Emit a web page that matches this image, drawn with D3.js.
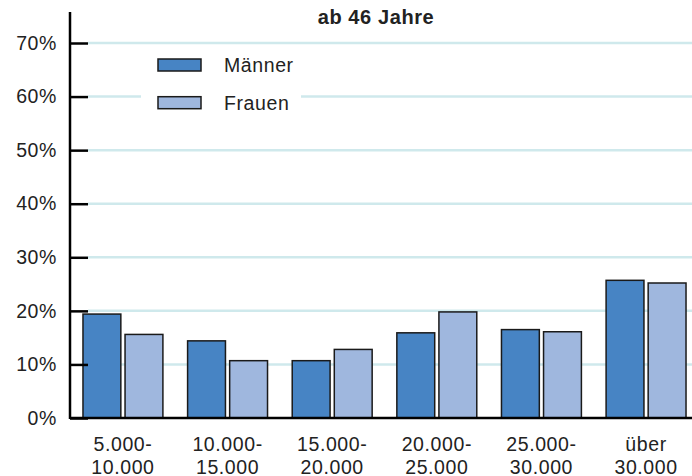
<!DOCTYPE html>
<html lang="de">
<head>
    <meta charset="UTF-8">
    <title>ab 46 Jahre</title>
    <style>
        body{ margin:0; background:#fff; }
        svg text{ font-family:Arial, "Liberation Sans", sans-serif; fill:#222; letter-spacing:0.6px; }
        .grid line{ stroke:#cfe9ec; stroke-width:2.5; }
        .bar rect{ stroke:#1a1a1a; stroke-width:1.5; }
        .axis line, .axis path{ stroke:#000; }
    </style>
</head>
<body>
    <svg class="chart" width="692" height="476"></svg>
    <script src="https://cdnjs.cloudflare.com/ajax/libs/d3/7.8.5/d3.min.js"></script>
    <script>
        // data
        var categories = ["5.000-|10.000", "10.000-|15.000", "15.000-|20.000", "20.000-|25.000", "25.000-|30.000", "über|30.000"];
        var series = ["Männer", "Frauen"];
        var maenner = [19.4, 14.4, 10.7, 15.9, 16.5, 25.7];
        var frauen = [15.6, 10.7, 12.8, 19.8, 16.1, 25.2];
        var yTicks = [0, 10, 20, 30, 40, 50, 60, 70];
        var colors = {"Männer": "#4784c4", "Frauen": "#9fb7de"};
        var title = "ab 46 Jahre";

        var svg = d3.select("svg"),
            plotLeft = 70, plotRight = 699,
            plotTop = 43, plotBottom = 418;

        var x0 = d3.scaleBand().domain(categories).range([plotLeft, plotRight]).paddingInner(0.236).paddingOuter(0.124);
        var x1 = d3.scaleBand().domain(series).range([0, x0.bandwidth()]).paddingInner(0.1);
        var y = d3.scaleLinear().domain([0, 70]).range([plotBottom, plotTop]);

        var data = categories.map(function(c, i){
            return {cat: c, values: [{key: "Männer", v: maenner[i]}, {key: "Frauen", v: frauen[i]}]};
        });

        // gridlines
        svg.append("g").attr("class", "grid")
            .selectAll("line")
            .data(yTicks.filter(function(t){ return t > 0; }))
            .enter().append("line")
            .attr("x1", plotLeft + 18).attr("x2", 692)
            .attr("y1", function(d){ return y(d); })
            .attr("y2", function(d){ return y(d); });

        // legend (white box hides grid behind it)
        var legend = svg.append("g").attr("class", "legend");
        legend.append("rect")
            .attr("x", 141).attr("y", 50).attr("width", 160).attr("height", 70)
            .attr("fill", "#fff");
        var li = legend.selectAll(".item")
            .data(series)
            .enter().append("g")
            .attr("class", "item")
            .attr("transform", function(d, i){ return "translate(158," + (59 + i*37.7) + ")"; });
        li.append("rect")
            .attr("width", 43).attr("height", 12)
            .attr("fill", function(d){ return colors[d]; })
            .attr("stroke", "#1a1a1a").attr("stroke-width", 1.5);
        li.append("text")
            .attr("x", 66).attr("y", 13)
            .style("font-size", "19.5px")
            .text(function(d){ return d; });

        // bars
        var group = svg.append("g").selectAll(".group")
            .data(data)
            .enter().append("g")
            .attr("class", "group")
            .attr("transform", function(d){ return "translate(" + x0(d.cat) + ",0)"; });
        group.selectAll(".bar")
            .data(function(d){ return d.values; })
            .enter().append("g").attr("class", "bar")
            .append("rect")
            .attr("x", function(d){ return x1(d.key); })
            .attr("y", function(d){ return y(d.v); })
            .attr("width", x1.bandwidth())
            .attr("height", function(d){ return y(0) - y(d.v); })
            .attr("fill", function(d){ return colors[d.key]; });

        // y axis
        var yAxis = svg.append("g")
            .attr("class", "axis y")
            .attr("transform", "translate(" + plotLeft + ",0)")
            .call(d3.axisLeft(y).tickValues(yTicks).tickSize(-18).tickPadding(13).tickFormat(function(d){ return d + "%"; }));
        yAxis.select(".domain").remove();
        yAxis.selectAll(".tick line").attr("stroke-width", 2.5);
        yAxis.selectAll(".tick text")
            .attr("x", -13)
            .style("font-size", "19.5px").style("fill", "#222");
        svg.append("line")
            .attr("x1", plotLeft).attr("x2", plotLeft)
            .attr("y1", 12).attr("y2", plotBottom + 1)
            .attr("stroke", "#000").attr("stroke-width", 2.5);

        // baseline
        svg.append("line")
            .attr("x1", plotLeft).attr("x2", 692)
            .attr("y1", y(0)).attr("y2", y(0))
            .attr("stroke", "#000").attr("stroke-width", 2.5);

        // x labels, two lines
        var xl = svg.append("g").attr("class", "axis x")
            .selectAll("text")
            .data(categories)
            .enter().append("text")
            .attr("text-anchor", "middle")
            .attr("transform", function(d){ return "translate(" + (x0(d) + x0.bandwidth()/2) + ",451)"; })
            .style("font-size", "19.5px");
        xl.selectAll("tspan")
            .data(function(d){ return d.split("|"); })
            .enter().append("tspan")
            .attr("x", 0)
            .attr("y", function(d, i){ return i*22.5; })
            .text(function(d){ return d; });

        // title
        svg.append("text")
            .attr("x", 376).attr("y", 24)
            .attr("text-anchor", "middle")
            .style("font-size", "20px").style("font-weight", "bold")
            .text(title);
    </script>
</body>
</html>
